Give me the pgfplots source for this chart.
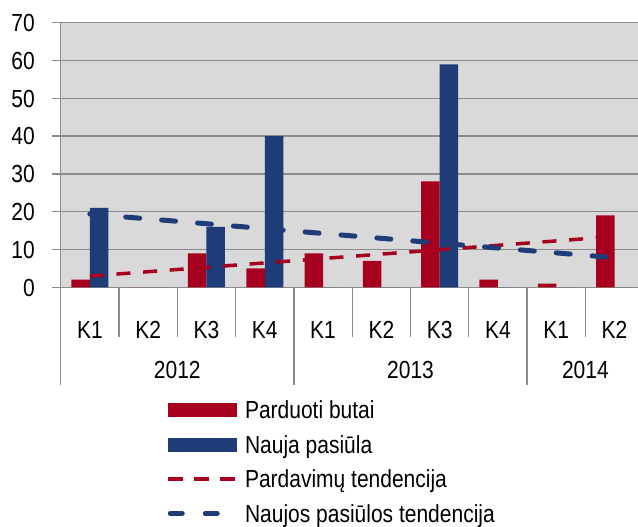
\documentclass[border=0pt]{standalone}
\usepackage{fontspec}
\setmainfont{Liberation Sans}[FakeStretch=0.85]
\usepackage{pgfplots}
\pgfplotsset{compat=1.18}
\definecolor{cred}{RGB}{166,0,30}
\definecolor{cblue}{RGB}{29,60,120}
\definecolor{bg}{RGB}{217,217,217}
\definecolor{gridc}{RGB}{140,140,140}
\begin{document}
\fontsize{24.8pt}{29pt}\selectfont
\begin{tikzpicture}[x=1bp,y=1bp]
\begin{axis}[
  at={(0,0)}, anchor=south west,
  scale only axis, width=577.3bp, height=264.6bp,
  xmin=-0.5, xmax=9.402, ymin=0, ymax=70,
  axis background/.style={fill=bg},
  axis lines*=left,
  axis line style={gridc, line width=1.3bp},
  ytick={0,10,...,70},
  ymajorgrids, grid style={gridc, line width=1.3bp},
  xtick={0,...,9},
  xticklabels={K1,K2,K3,K4,K1,K2,K3,K4,K1,K2},
  xtick style={draw=none},
  ytick style={gridc, line width=1.3bp},
  tick align=outside, major tick length=8.7bp,
  yticklabel style={anchor=east, inner sep=0pt, text height=17.5bp, text depth=0pt, xshift=-17bp},
  xticklabel style={anchor=base, inner sep=0pt, yshift=-42.7bp},
  /pgf/number format/assume math mode=true,
  clip=false,
  legend style={at={(0.1824,-0.4307)}, anchor=north west, draw=none, fill=none,
    inner sep=0pt, outer sep=0pt, row sep=17bp, column sep=6.5bp,
    nodes={inner sep=0pt, text height=17.5bp, text depth=0pt}},
  legend cell align=left,
]
\addplot[ybar, bar width=18.5bp, bar shift=-9.25bp, fill=cred, draw=none,
  legend image code/.code={\fill[cred] (0bp,-7bp) rectangle (69bp,7bp);}]
  coordinates {(0,2)(1,0)(2,9)(3,5)(4,9)(5,7)(6,28)(7,2)(8,1)(9,19)};
\addlegendentry{Parduoti butai}
\addplot[ybar, bar width=18.5bp, bar shift=9.25bp, fill=cblue, draw=none,
  legend image code/.code={\fill[cblue] (0bp,-7bp) rectangle (69bp,7bp);}]
  coordinates {(0,21)(1,0)(2,16)(3,40)(4,0)(5,0)(6,59)(7,0)(8,0)(9,0)};
\addlegendentry{Nauja pasiūla}
\addplot[sharp plot, no markers, cred, line width=3.5bp, dash pattern=on 14bp off 12.7bp,
  legend image code/.code={\draw[cred, line width=3.5bp, dash pattern=on 15bp off 11bp] (0bp,0bp) -- (69bp,0bp);}]
  coordinates {(0,2.96)(9,13.44)};
\addlegendentry{Pardavimų tendencija}
\addplot[sharp plot, no markers, cblue, line width=5bp, line cap=round, dash pattern=on 14bp off 22bp,
  legend image code/.code={\draw[cblue, line width=5bp, line cap=round, dash pattern=on 12bp off 23bp] (2.5bp,0bp) -- (66.5bp,0bp);}]
  coordinates {(0,19.38)(9,7.82)};
\addlegendentry{Naujos pasiūlos tendencija}
\pgfplotsinvokeforeach{0.5,1.5,2.5,4.5,5.5,6.5,8.5}{
  \draw[gridc, line width=1.3bp] (axis cs:#1,0) -- ++(0bp,-50bp);
}
\pgfplotsinvokeforeach{-0.5,3.5,7.5}{
  \draw[gridc, line width=1.3bp] (axis cs:#1,0) -- ++(0bp,-98bp);
}
\node[anchor=base, inner sep=0pt, yshift=-91bp] at (axis cs:1.5,0) {2012};
\node[anchor=base, inner sep=0pt, yshift=-91bp] at (axis cs:5.5,0) {2013};
\node[anchor=base, inner sep=0pt, yshift=-91bp] at (axis cs:8.5,0) {2014};
\end{axis}
\pgfresetboundingbox
\useasboundingbox (-60.7,-239.7) rectangle (577.3,287.3);
\end{tikzpicture}
\end{document}
